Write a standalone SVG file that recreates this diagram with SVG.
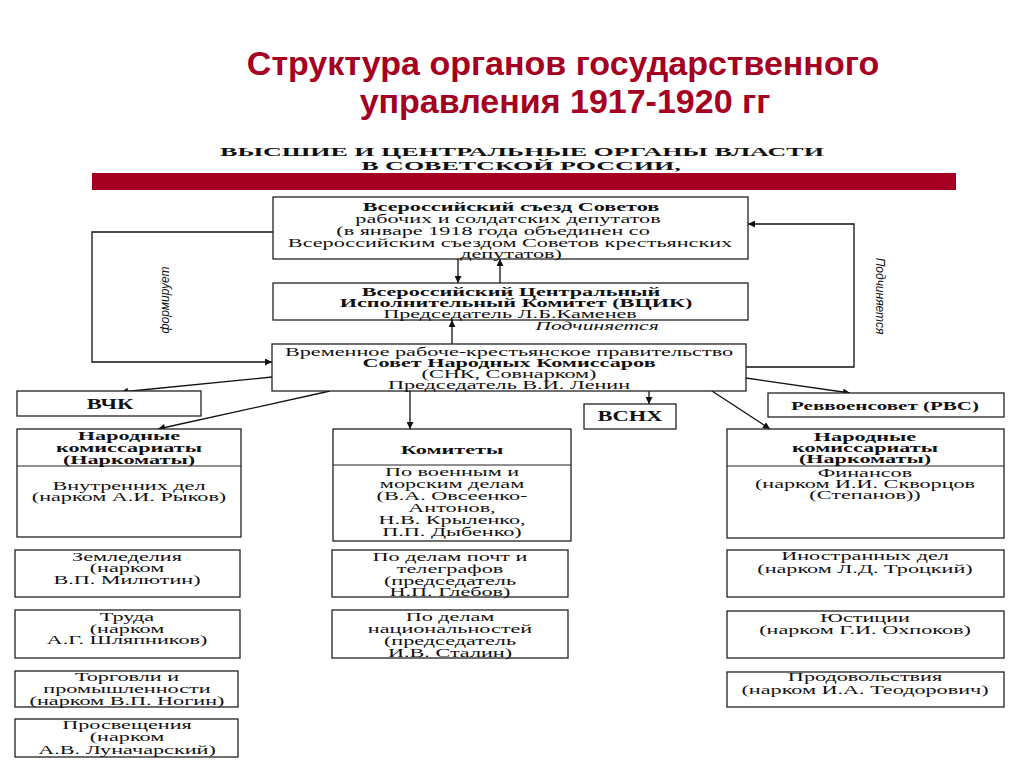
<svg xmlns="http://www.w3.org/2000/svg" width="1024" height="768" viewBox="0 0 1024 768">
<defs>
<style>
.t{font-family:"Liberation Serif","DejaVu Serif",serif;font-size:11.5px;fill:#111;text-anchor:middle}
.b{font-weight:bold}
.i{font-style:italic}
.box{fill:#fff;stroke:#222;stroke-width:1.3}
.div{stroke:#222;stroke-width:1.1}
.ln{fill:none;stroke:#111;stroke-width:1.3}
.title{font-family:"Liberation Sans",Arial,sans-serif;font-size:34px;font-weight:bold;fill:#a50021;text-anchor:middle}
.hd{font-family:"Liberation Serif","DejaVu Serif",serif;font-size:13px;font-weight:bold;fill:#111;text-anchor:middle}
.rot{font-family:"Liberation Sans Narrow","Liberation Sans",sans-serif;font-size:12px;font-style:italic;fill:#111;text-anchor:middle}
</style>
<marker id="ah" viewBox="0 0 10 10" refX="10" refY="5" markerWidth="9" markerHeight="7" markerUnits="userSpaceOnUse" orient="auto"><path d="M0,0 L10,5 L0,10 z" fill="#111"/></marker>
</defs>
<rect width="1024" height="768" fill="#fff"/>

<g id="title">
<text class="title" x="563" y="75">Структура органов государственного</text>
<text class="title" x="565" y="113">управления 1917-1920 гг</text>
</g>

<g id="header">
<text class="hd" transform="translate(522,156) scale(2,1)">ВЫСШИЕ И ЦЕНТРАЛЬНЫЕ ОРГАНЫ ВЛАСТИ</text>
<text class="hd" transform="translate(521,170) scale(2,1)">В СОВЕТСКОЙ РОССИИ,</text>
<rect x="92" y="173" width="864" height="17" fill="#a50021"/>
</g>

<g id="connectors">
<path class="ln" d="M458,259 V283" marker-end="url(#ah)"/>
<path class="ln" d="M500,283 V259" marker-end="url(#ah)"/>
<path class="ln" d="M452,344 V320" marker-end="url(#ah)"/>
<path class="ln" d="M273,232 H92 V362 H272" marker-end="url(#ah)"/>
<path class="ln" d="M746,367 H854 V224 H748" marker-end="url(#ah)"/>
<path class="ln" d="M272,377 L121,392" marker-end="url(#ah)"/>
<path class="ln" d="M330,391 L158,429" marker-end="url(#ah)"/>
<path class="ln" d="M410,391 V429" marker-end="url(#ah)"/>
<path class="ln" d="M649,391 V404" marker-end="url(#ah)"/>
<path class="ln" d="M746,378 L850,393" marker-end="url(#ah)"/>
<path class="ln" d="M712,391 L770,429" marker-end="url(#ah)"/>
<text class="rot" transform="translate(169,300) rotate(-90)">формирует</text>
<text class="rot" transform="translate(876,296) rotate(90)">Подчиняется</text>
<text class="t i" transform="translate(597,330) scale(1.88,1)">Подчиняется</text>
</g>

<g id="congress">
<rect class="box" x="273" y="197" width="475" height="62"/>
<text class="t b" transform="translate(511,211) scale(1.93,1)">Всероссийский съезд Советов</text>
<text class="t" transform="translate(508,223) scale(1.93,1)">рабочих и солдатских депутатов</text>
<text class="t" transform="translate(493,235) scale(1.93,1)">(в январе 1918 года объединен со</text>
<text class="t" transform="translate(510,247) scale(1.93,1)">Всероссийским съездом Советов крестьянских</text>
<text class="t" transform="translate(511,258) scale(1.93,1)">депутатов)</text>
</g>

<g id="vtsik">
<rect class="box" x="273" y="283" width="475" height="37"/>
<text class="t b" transform="translate(511,296) scale(1.93,1)">Всероссийский Центральный</text>
<text class="t b" transform="translate(516,307) scale(1.93,1)">Исполнительный Комитет (ВЦИК)</text>
<text class="t" transform="translate(510,318) scale(1.93,1)">Председатель Л.Б.Каменев</text>
</g>

<g id="snk">
<rect class="box" x="272" y="344" width="474" height="47"/>
<text class="t" transform="translate(509,356) scale(1.93,1)">Временное рабоче-крестьянское правительство</text>
<text class="t b" transform="translate(509,367) scale(1.93,1)">Совет Народных Комиссаров</text>
<text class="t" transform="translate(509,378) scale(1.93,1)">(СНК, Совнарком)</text>
<text class="t" transform="translate(509,389) scale(1.93,1)">Председатель В.И. Ленин</text>
</g>

<g id="vchk">
<rect class="box" x="17" y="391" width="184" height="25"/>
<text class="t b" style="font-size:15px" transform="translate(110,409) scale(1.5,1)">ВЧК</text>
</g>

<g id="narkom-left">
<rect class="box" x="17" y="429" width="224" height="108"/>
<line class="div" x1="17" y1="466" x2="241" y2="466"/>
<text class="t b" transform="translate(129,440) scale(1.93,1)">Народные</text>
<text class="t b" transform="translate(129,452) scale(1.93,1)">комиссариаты</text>
<text class="t b" transform="translate(129,464) scale(1.93,1)">(Наркоматы)</text>
<text class="t" transform="translate(129,490) scale(1.93,1)">Внутренних дел</text>
<text class="t" transform="translate(129,501) scale(1.93,1)">(нарком А.И. Рыков)</text>
</g>

<g id="zemledelie">
<rect class="box" x="15" y="550" width="225" height="47"/>
<text class="t" transform="translate(127,561) scale(1.93,1)">Земледелия</text>
<text class="t" transform="translate(127,572) scale(1.93,1)">(нарком</text>
<text class="t" transform="translate(127,584) scale(1.93,1)">В.П. Милютин)</text>
</g>

<g id="truda">
<rect class="box" x="15" y="610" width="225" height="48"/>
<text class="t" transform="translate(127,621) scale(1.93,1)">Труда</text>
<text class="t" transform="translate(127,633) scale(1.93,1)">(нарком</text>
<text class="t" transform="translate(127,644) scale(1.93,1)">А.Г. Шляпников)</text>
</g>

<g id="torgovli">
<rect class="box" x="15" y="671" width="223" height="36"/>
<text class="t" transform="translate(127,681) scale(1.93,1)">Торговли и</text>
<text class="t" transform="translate(127,693) scale(1.93,1)">промышленности</text>
<text class="t" transform="translate(127,705) scale(1.93,1)">(нарком В.П. Ногин)</text>
</g>

<g id="prosveshchenie">
<rect class="box" x="15" y="719" width="223" height="38"/>
<text class="t" transform="translate(127,729) scale(1.93,1)">Просвещения</text>
<text class="t" transform="translate(127,741) scale(1.93,1)">(нарком</text>
<text class="t" transform="translate(127,754) scale(1.93,1)">А.В. Луначарский)</text>
</g>

<g id="komitety">
<rect class="box" x="333" y="429" width="238" height="112"/>
<line class="div" x1="333" y1="465" x2="571" y2="465"/>
<text class="t b" transform="translate(452,454) scale(1.93,1)">Комитеты</text>
<text class="t" transform="translate(452,476) scale(1.93,1)">По военным и</text>
<text class="t" transform="translate(452,488) scale(1.93,1)">морским делам</text>
<text class="t" transform="translate(452,500) scale(1.93,1)">(В.А. Овсеенко-</text>
<text class="t" transform="translate(452,512) scale(1.93,1)">Антонов,</text>
<text class="t" transform="translate(452,524) scale(1.93,1)">Н.В. Крыленко,</text>
<text class="t" transform="translate(452,536) scale(1.93,1)">П.П. Дыбенко)</text>
</g>

<g id="pocht">
<rect class="box" x="332" y="550" width="236" height="47"/>
<text class="t" transform="translate(450,561) scale(1.93,1)">По делам почт и</text>
<text class="t" transform="translate(450,573) scale(1.93,1)">телеграфов</text>
<text class="t" transform="translate(450,585) scale(1.93,1)">(председатель</text>
<text class="t" transform="translate(450,596) scale(1.93,1)">Н.П. Глебов)</text>
</g>

<g id="natsionalnosti">
<rect class="box" x="332" y="610" width="236" height="48"/>
<text class="t" transform="translate(450,621) scale(1.93,1)">По делам</text>
<text class="t" transform="translate(450,633) scale(1.93,1)">национальностей</text>
<text class="t" transform="translate(450,645) scale(1.93,1)">(председатель</text>
<text class="t" transform="translate(450,657) scale(1.93,1)">И.В. Сталин)</text>
</g>

<g id="vsnh">
<rect class="box" x="584" y="404" width="92" height="25"/>
<text class="t b" style="font-size:15px" transform="translate(630,421) scale(1.5,1)">ВСНХ</text>
</g>

<g id="rvs">
<rect class="box" x="768" y="393" width="236" height="24"/>
<text class="t b" transform="translate(885,410) scale(1.83,1)">Реввоенсовет (РВС)</text>
</g>

<g id="narkom-right">
<rect class="box" x="727" y="429" width="277" height="109"/>
<line class="div" x1="727" y1="466" x2="1004" y2="466"/>
<text class="t b" transform="translate(865,441) scale(1.93,1)">Народные</text>
<text class="t b" transform="translate(865,452) scale(1.93,1)">комиссариаты</text>
<text class="t b" transform="translate(865,463) scale(1.93,1)">(Наркоматы)</text>
<text class="t" transform="translate(865,477) scale(1.93,1)">Финансов</text>
<text class="t" transform="translate(865,488) scale(1.93,1)">(нарком И.И. Скворцов</text>
<text class="t" transform="translate(865,499) scale(1.93,1)">(Степанов))</text>
</g>

<g id="inostrannye">
<rect class="box" x="727" y="550" width="277" height="47"/>
<text class="t" transform="translate(865,560) scale(1.93,1)">Иностранных дел</text>
<text class="t" transform="translate(865,573) scale(1.93,1)">(нарком Л.Д. Троцкий)</text>
</g>

<g id="yustitsii">
<rect class="box" x="727" y="611" width="277" height="47"/>
<text class="t" transform="translate(865,622) scale(1.93,1)">Юстиции</text>
<text class="t" transform="translate(865,634) scale(1.93,1)">(нарком  Г.И. Охпоков)</text>
</g>

<g id="prodovolstvie">
<rect class="box" x="727" y="672" width="277" height="35"/>
<text class="t" transform="translate(865,681) scale(1.93,1)">Продовольствия</text>
<text class="t" transform="translate(865,694) scale(1.93,1)">(нарком И.А. Теодорович)</text>
</g>
</svg>
